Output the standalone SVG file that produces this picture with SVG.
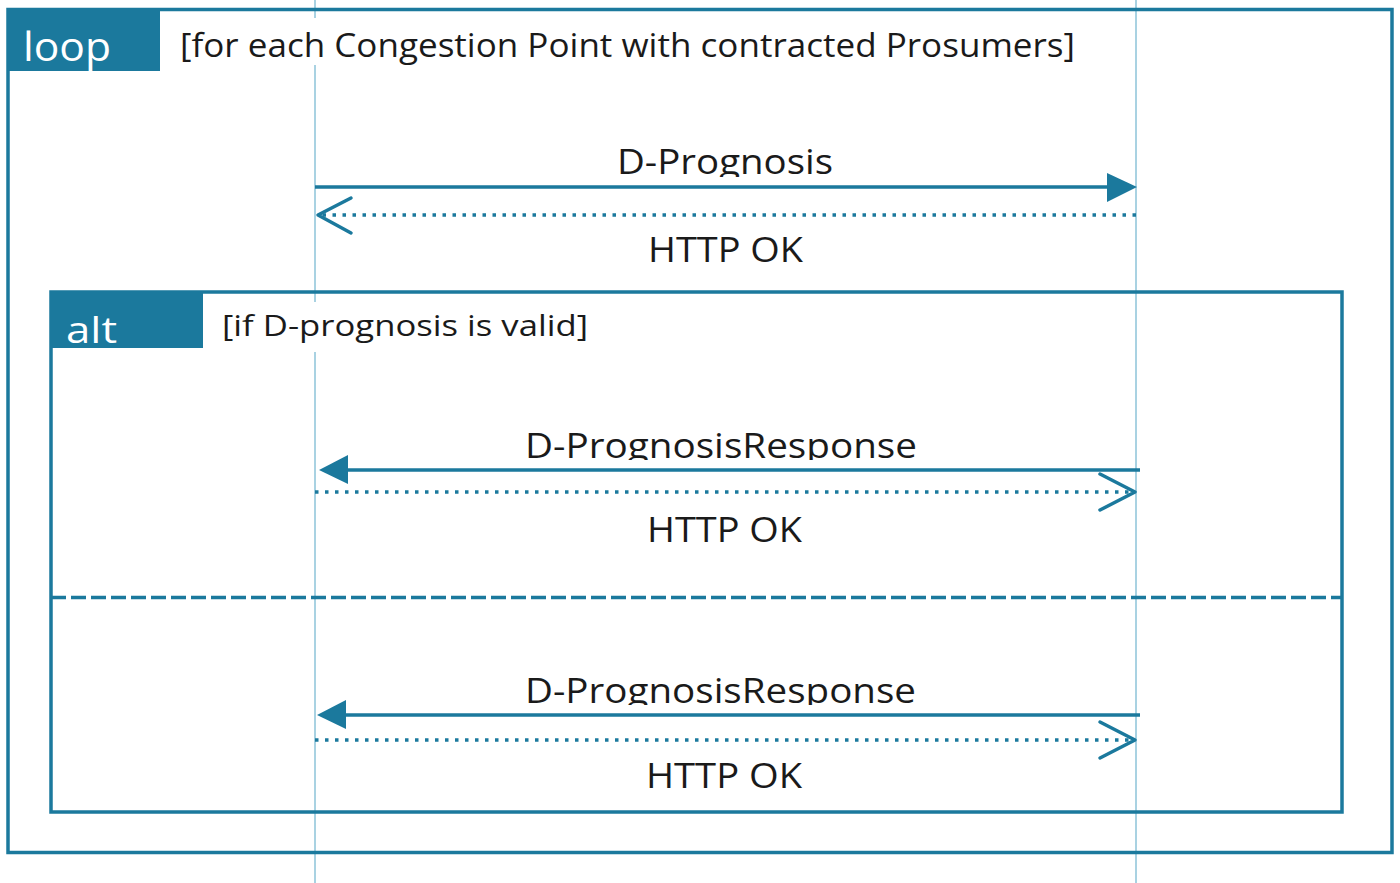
<svg xmlns="http://www.w3.org/2000/svg" width="1400" height="883" viewBox="0 0 1400 883">
  <style>
    .frame { fill: none; stroke: #1b799d; stroke-width: 3.5; }
    .tab { fill: #1b799d; }
    .life { stroke: #a9d2e2; stroke-width: 2; fill: none; }
    .msg { stroke: #1b799d; stroke-width: 3.5; fill: none; }
    .ret { stroke: #1b799d; stroke-width: 3.5; fill: none; stroke-dasharray: 3.5 6.5; }
    .sep { stroke: #1b799d; stroke-width: 3.5; fill: none; stroke-dasharray: 15 5; }
    .head { fill: #1b799d; }
    .open { fill: none; stroke: #1b799d; stroke-width: 3.5; stroke-linecap: round; stroke-linejoin: round; }
    .t { font-family: "Open Sans", "Noto Sans", "Liberation Sans", sans-serif; fill: #1a1a1a; }
    .tw { font-family: "Open Sans", "Noto Sans", "Liberation Sans", sans-serif; fill: #ffffff; }
  </style>
  <defs>
    <clipPath id="c1"><rect x="500" y="130" width="450" height="47"/></clipPath>
    <clipPath id="c2"><rect x="500" y="415" width="450" height="45"/></clipPath>
    <clipPath id="c3"><rect x="500" y="660" width="450" height="45"/></clipPath>
  </defs>
  <rect width="1400" height="883" fill="#ffffff"/>

  <g id="lifelines">
    <line class="life" x1="315" y1="0" x2="315" y2="883"/>
    <line class="life" x1="1136" y1="0" x2="1136" y2="883"/>
  </g>

  <g id="loop-frame">
    <rect class="frame" x="8" y="9.5" width="1384" height="843"/>
    <rect class="tab" x="8" y="9" width="152" height="62"/>
    <text class="tw" x="23" y="61" font-size="40" textLength="88" lengthAdjust="spacingAndGlyphs">loop</text>
    <rect x="172" y="18" width="910" height="47" fill="#ffffff"/>
    <text class="t" x="180" y="57" font-size="33" textLength="895" lengthAdjust="spacingAndGlyphs">[for each Congestion Point with contracted Prosumers]</text>
  </g>

  <g id="alt-frame">
    <rect class="frame" x="51" y="292" width="1291" height="520"/>
    <rect class="tab" x="51" y="292" width="152" height="56"/>
    <text class="tw" x="66" y="343" font-size="37" textLength="51" lengthAdjust="spacingAndGlyphs">alt</text>
    <rect x="215" y="302" width="380" height="50" fill="#ffffff"/>
    <text class="t" x="222" y="336" font-size="30" textLength="366" lengthAdjust="spacingAndGlyphs">[if D-prognosis is valid]</text>
    <line class="sep" x1="51" y1="597.5" x2="1342" y2="597.5"/>
  </g>

  <g id="connectors">
    <!-- D-Prognosis -->
    <line class="msg" x1="315" y1="187" x2="1110" y2="187"/>
    <polygon class="head" points="1107,173 1137,187 1107,202"/>
    <!-- HTTP OK 1 -->
    <line class="ret" x1="1136" y1="215" x2="322" y2="215"/>
    <polyline class="open" points="351,198 318,215 351,233"/>
    <!-- D-PrognosisResponse 1 -->
    <line class="msg" x1="1140" y1="470" x2="345" y2="470"/>
    <polygon class="head" points="348,455 319,470 348,484"/>
    <!-- HTTP OK 2 -->
    <line class="ret" x1="315" y1="492" x2="1130" y2="492"/>
    <polyline class="open" points="1100,474 1135,492 1100,510"/>
    <!-- D-PrognosisResponse 2 -->
    <line class="msg" x1="1140" y1="715" x2="345" y2="715"/>
    <polygon class="head" points="346,700 317,715 346,729"/>
    <!-- HTTP OK 3 -->
    <line class="ret" x1="315" y1="740" x2="1130" y2="740"/>
    <polyline class="open" points="1100,722 1135,740 1100,758"/>
  </g>

  <g id="labels">
    <text class="t" x="617" y="174" font-size="34" textLength="216" lengthAdjust="spacingAndGlyphs" clip-path="url(#c1)">D-Prognosis</text>
    <text class="t" x="648" y="262" font-size="34" textLength="155" lengthAdjust="spacingAndGlyphs">HTTP OK</text>
    <text class="t" x="525" y="458" font-size="34" textLength="392" lengthAdjust="spacingAndGlyphs" clip-path="url(#c2)">D-PrognosisResponse</text>
    <text class="t" x="647" y="542" font-size="34" textLength="155" lengthAdjust="spacingAndGlyphs">HTTP OK</text>
    <text class="t" x="525" y="703" font-size="34" textLength="391" lengthAdjust="spacingAndGlyphs" clip-path="url(#c3)">D-PrognosisResponse</text>
    <text class="t" x="646" y="788" font-size="34" textLength="156" lengthAdjust="spacingAndGlyphs">HTTP OK</text>
  </g>
</svg>
